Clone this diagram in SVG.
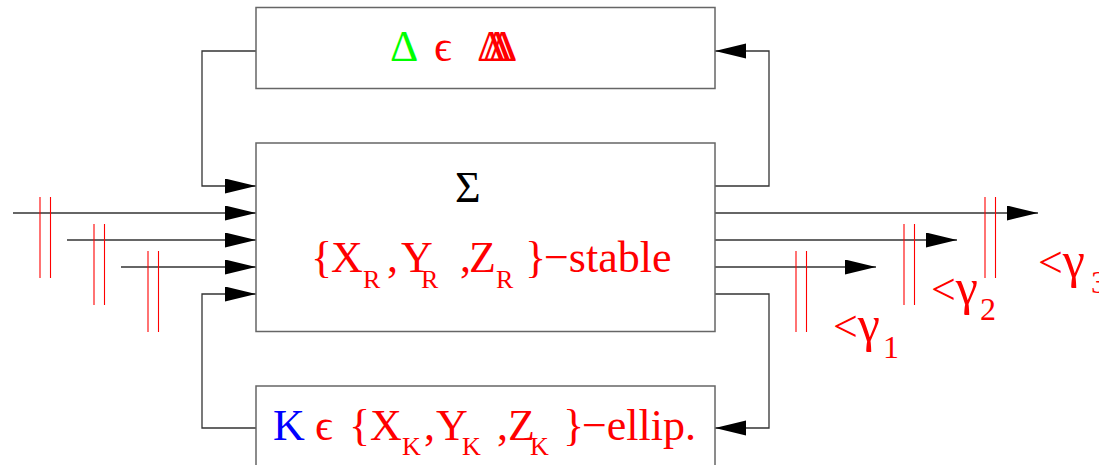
<svg xmlns="http://www.w3.org/2000/svg" width="1099" height="465" viewBox="0 0 1099 465">
<style>
.box{fill:#fff;stroke:#666;stroke-width:1.5}
.con{fill:none;stroke:#333;stroke-width:1.3}
.bar{stroke:#ff0000;stroke-width:1.1}
.t{font-family:"Liberation Serif","DejaVu Serif",serif;font-size:44px}
.s{font-family:"Liberation Serif","DejaVu Serif",serif;font-size:26px}
.g{font-family:"Liberation Serif","DejaVu Serif",serif;font-size:32px}
.gm{font-size:50px}
.r{fill:#ff0000}
</style>
<defs>
<marker id="ah" markerUnits="userSpaceOnUse" markerWidth="32" markerHeight="16" refX="31" refY="7.5" orient="auto">
<path d="M0,0 L31,7.5 L0,15 z" fill="#000"/>
</marker>
</defs>
<g id="connectors">
<path class="con" d="M13,213 H256" marker-end="url(#ah)"/>
<path class="con" d="M67,240 H256" marker-end="url(#ah)"/>
<path class="con" d="M121,267 H256" marker-end="url(#ah)"/>
<path class="con" d="M256,51 H202 V186 H256" marker-end="url(#ah)"/>
<path class="con" d="M256,428 H202 V294 H256" marker-end="url(#ah)"/>
<path class="con" d="M715,186 H769 V51 H715" marker-end="url(#ah)"/>
<path class="con" d="M715,294 H769 V428 H715" marker-end="url(#ah)"/>
<path class="con" d="M715,213 H1038" marker-end="url(#ah)"/>
<path class="con" d="M715,240 H957" marker-end="url(#ah)"/>
<path class="con" d="M715,267 H876" marker-end="url(#ah)"/>
</g>
<g id="bars">
<line class="bar" x1="40" y1="197" x2="40" y2="278"/>
<line class="bar" x1="50.5" y1="197" x2="50.5" y2="278"/>
<line class="bar" x1="94" y1="224" x2="94" y2="305"/>
<line class="bar" x1="104.5" y1="224" x2="104.5" y2="305"/>
<line class="bar" x1="148" y1="251" x2="148" y2="332"/>
<line class="bar" x1="158.5" y1="251" x2="158.5" y2="332"/>
<line class="bar" x1="796" y1="251" x2="796" y2="332"/>
<line class="bar" x1="806.5" y1="251" x2="806.5" y2="332"/>
<line class="bar" x1="904" y1="224" x2="904" y2="305"/>
<line class="bar" x1="914.5" y1="224" x2="914.5" y2="305"/>
<line class="bar" x1="985" y1="197" x2="985" y2="278"/>
<line class="bar" x1="995.5" y1="197" x2="995.5" y2="278"/>
</g>
<g id="delta">
<rect class="box" x="256" y="7.5" width="459" height="81"/>
<text class="t" x="390" y="61" fill="#00ff00" font-size="47">Δ</text>
<text class="t r" x="434" y="61">ϵ</text>
<text class="t r" x="477" y="61" font-size="47">Δ</text>
<text class="t r" x="483" y="61" font-size="47">Δ</text>
<text class="t r" x="489" y="61" font-size="47">Δ</text>
</g>
<g id="sigma">
<rect class="box" x="256" y="143" width="459" height="188.5"/>
<text class="t" x="455" y="202" fill="#000" font-size="47">Σ</text>
<text class="t r" x="311" y="272">{</text>
<text class="t r" x="331" y="272">X</text>
<text class="s r" x="363" y="288">R</text>
<text class="t r" x="387" y="272">,</text>
<text class="t r" x="401" y="272">Y</text>
<text class="s r" x="421" y="288">R</text>
<text class="t r" x="460" y="272">,</text>
<text class="t r" x="469" y="272">Z</text>
<text class="s r" x="496" y="288">R</text>
<text class="t r" x="525" y="272">}</text>
<text class="t r" x="544" y="272">−stable</text>
</g>
<g id="controller">
<rect class="box" x="256" y="386" width="459" height="90"/>
<text class="t" x="273" y="440" fill="#0000ff">K</text>
<text class="t r" x="315" y="440">ϵ</text>
<text class="t r" x="349" y="440">{</text>
<text class="t r" x="370" y="440">X</text>
<text class="s r" x="402" y="455">K</text>
<text class="t r" x="424" y="440">,</text>
<text class="t r" x="436" y="440">Y</text>
<text class="s r" x="462" y="455">K</text>
<text class="t r" x="497" y="440">,</text>
<text class="t r" x="508" y="440">Z</text>
<text class="s r" x="530" y="455">K</text>
<text class="t r" x="563" y="440">}</text>
<text class="t r" x="582" y="440">−ellip.</text>
</g>
<g id="labels">
<text class="t r" x="833" y="341">&lt;<tspan class="gm">γ</tspan></text>
<text class="g r" x="883" y="358">1</text>
<text class="t r" x="931" y="304">&lt;<tspan class="gm">γ</tspan></text>
<text class="g r" x="980" y="320">2</text>
<text class="t r" x="1038" y="277">&lt;<tspan class="gm">γ</tspan></text>
<text class="g r" x="1091" y="293">3</text>
</g>
</svg>
